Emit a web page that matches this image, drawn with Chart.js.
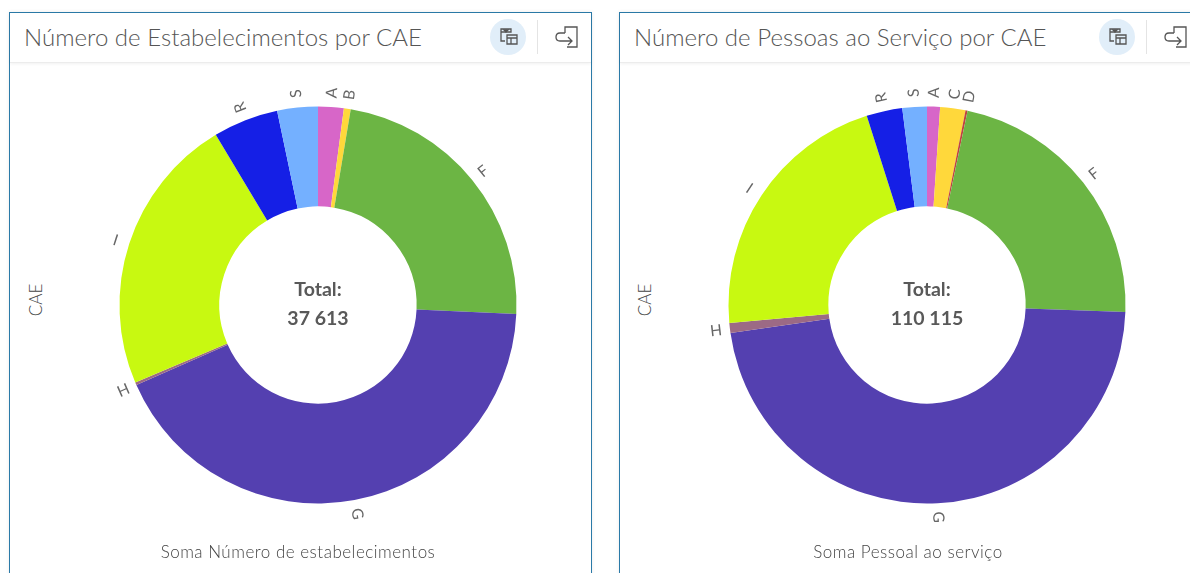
<!DOCTYPE html>
<html lang="pt">
<head>
<meta charset="utf-8">
<title>CAE</title>
<script src="https://cdn.jsdelivr.net/npm/chart.js@4"></script>
<style>
html,body{margin:0;padding:0;background:#fff;width:1190px;height:573px;overflow:hidden;font-family:Lato,"Open Sans",sans-serif;color:#6a6a6a}
.panel{position:absolute;top:12px;height:600px;box-sizing:border-box;border:1px solid #2b7aa8;background:#fff;box-shadow:0 0 4px rgba(0,0,0,.08)}
#p1{left:9px;width:583px}
#p2{left:619px;width:600px}
.head{position:absolute;left:0;right:0;top:0;height:49px;border-bottom:1px solid #ececec;box-shadow:0 1px 3px rgba(0,0,0,.06)}
.title{position:absolute;left:14px;top:9px;font-size:24px;font-weight:300;letter-spacing:.03px;line-height:30px;white-space:nowrap;color:#555}
.circle{position:absolute;top:6px;width:36px;height:36px;border-radius:50%;background:#e1eef9}
.divider{position:absolute;top:7px;width:1px;height:34px;background:#e4e4e4}
.icon{position:absolute;top:13px}
canvas{position:absolute;left:0;top:0}
.chartbox{position:absolute;top:42px;width:500px;height:500px}
.ytitle{position:absolute;top:287px;font-size:17px;font-weight:300;color:#444;transform:translate(-50%,-50%) rotate(-90deg);white-space:nowrap}
.xtitle{position:absolute;top:528px;font-size:17px;font-weight:300;color:#444;transform:translateX(-50%);white-space:nowrap;letter-spacing:.5px}
</style>
</head>
<body>
<div class="panel" id="p1">
  <div class="head">
    <div class="title">Número de Estabelecimentos por CAE</div>
    <div class="circle" style="left:480px"></div>
    <svg class="icon" style="left:489px" width="20" height="22" viewBox="0 0 20 22" fill="none" stroke="#555" stroke-width="1.3"><path d="M2 3h10v3H2zM2 6v9h4M8 9h10v9H8zM8 12h10M12 12v6"/><path d="M5 4h4L7 6z" fill="#555"/></svg>
    <div class="divider" style="left:527px"></div>
    <svg class="icon" style="left:545px" width="24" height="24" viewBox="0 0 24 24" fill="none" stroke="#555" stroke-width="1.3"><path d="M10 7V1h12v20H12"/><path d="M10 7H5q-4 0-4 4t4 4h12M13 11l4 4-4 4"/></svg>
  </div>
  <div class="chartbox" style="left:58px"><canvas id="c1" width="500" height="500"></canvas></div>
  <div class="ytitle" style="left:25px">CAE</div>
  <div class="xtitle" style="left:288px">Soma Número de estabelecimentos</div>
</div>
<div class="panel" id="p2">
  <div class="head">
    <div class="title">Número de Pessoas ao Serviço por CAE</div>
    <div class="circle" style="left:479px"></div>
    <svg class="icon" style="left:488px" width="20" height="22" viewBox="0 0 20 22" fill="none" stroke="#555" stroke-width="1.3"><path d="M2 3h10v3H2zM2 6v9h4M8 9h10v9H8zM8 12h10M12 12v6"/><path d="M5 4h4L7 6z" fill="#555"/></svg>
    <div class="divider" style="left:526px"></div>
    <svg class="icon" style="left:544px" width="24" height="24" viewBox="0 0 24 24" fill="none" stroke="#555" stroke-width="1.3"><path d="M10 7V1h12v20H12"/><path d="M10 7H5q-4 0-4 4t4 4h12M13 11l4 4-4 4"/></svg>
  </div>
  <div class="chartbox" style="left:57px"><canvas id="c2" width="500" height="500"></canvas></div>
  <div class="ytitle" style="left:24px">CAE</div>
  <div class="xtitle" style="left:288px">Soma Pessoal ao serviço</div>
</div>
<script>
const categoriesA = ["A","B","F","G","H","I","R","S"];
const valuesA = [784,209,8682,16048,84,8567,1996,1243];
const coloursA = ["#d766c8","#ffd83b","#6cb544","#5440b0","#9c6a85","#c8f911","#151fe6","#74b0ff"];
const totalA = "37 613";

const categoriesB = ["A","C","D","F","G","H","I","R","S"];
const valuesB = [1162,2264,184,24533,51972,887,23707,3212,2194];
const coloursB = ["#d766c8","#ffd83b","#c0433f","#6cb544","#5440b0","#9c6a85","#c8f911","#151fe6","#74b0ff"];
const totalB = "110 115";

const labelPlugin = {
  id: "radialLabels",
  afterDatasetsDraw(chart, args, opts) {
    const ctx = chart.ctx;
    const arcs = chart.getDatasetMeta(0).data;
    const cats = chart.data.labels;
    ctx.save();
    ctx.fillStyle = "#666";
    ctx.font = "400 15.5px Lato, sans-serif";
    ctx.textAlign = "center";
    ctx.textBaseline = "middle";
    arcs.forEach((arc, i) => {
      const p = arc.getProps(["x","y","startAngle","endAngle","outerRadius"], true);
      const mid = (p.startAngle + p.endAngle) / 2;
      const r = p.outerRadius + 14;
      ctx.save();
      ctx.translate(p.x + Math.cos(mid) * r, p.y + Math.sin(mid) * r);
      ctx.rotate(mid);
      ctx.fillText(cats[i], 0, 0);
      ctx.restore();
    });
    const c = arcs[0].getProps(["x","y"], true);
    ctx.fillStyle = "#595959";
    ctx.font = "bold 19.5px Lato, sans-serif";
    ctx.fillText("Total:", c.x, c.y - 15);
    ctx.fillText(opts.total, c.x, c.y + 14);
    ctx.restore();
  }
};

function draw(id, labels, values, colours, total) {
  new Chart(document.getElementById(id), {
    type: "doughnut",
    data: { labels, datasets: [{ data: values, backgroundColor: colours, borderWidth: 0 }] },
    options: {
      responsive: false,
      animation: false,
      cutout: "49.7%",
      layout: { padding: 51.5 },
      plugins: { legend: { display: false }, tooltip: { enabled: false }, radialLabels: { total } }
    },
    plugins: [labelPlugin]
  });
}
draw("c1", categoriesA, valuesA, coloursA, totalA);
draw("c2", categoriesB, valuesB, coloursB, totalB);
</script>
</body>
</html>
